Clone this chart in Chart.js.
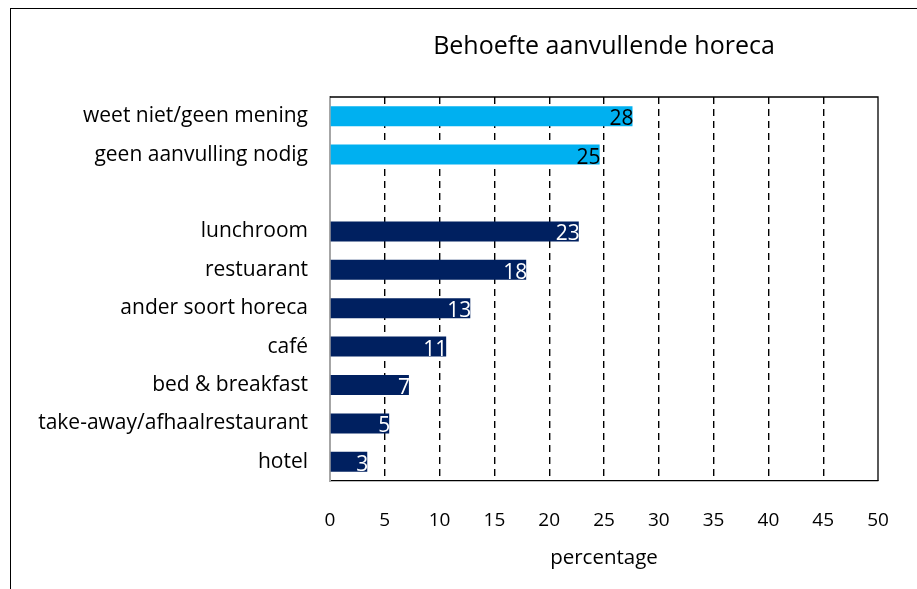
<!DOCTYPE html>
<html>
<head>
<meta charset="utf-8">
<script src="https://cdn.jsdelivr.net/npm/chart.js@4.4.0/dist/chart.umd.min.js"></script>
<style>
    html, body { margin: 0; padding: 0; background: #fff; overflow: hidden; }
</style>
</head>
<body>
<canvas id="grafiekHoreca" width="917" height="589"></canvas>
<script>
const categorieen = [
    'weet niet/geen mening',
    'geen aanvulling nodig',
    '',
    'lunchroom',
    'restuarant',
    'ander soort horeca',
    'café',
    'bed & breakfast',
    'take-away/afhaalrestaurant',
    'hotel'
];
const percentages = [27.6, 24.6, null, 22.7, 17.9, 12.8, 10.6, 7.2, 5.4, 3.4];
const groepen = ['overig', 'overig', null, 'soort', 'soort', 'soort', 'soort', 'soort', 'soort', 'soort'];
const xTicks = [0, 5, 10, 15, 20, 25, 30, 35, 40, 45, 50];

const kleuren = { overig: '#00B0F0', soort: '#002060' };
const lettertype = "'Open Sans', sans-serif";

// kader rond de grafiek + rand boven/rechts van het plotgebied
const kaderPlugin = {
    id: 'kader',
    beforeDraw(chart) {
        const ctx = chart.ctx;
        ctx.save();
        ctx.fillStyle = '#fff';
        ctx.fillRect(0, 0, chart.width, chart.height);
        ctx.strokeStyle = '#000';
        ctx.lineWidth = 1;
        ctx.strokeRect(10.5, 8.5, 1000, 1000);
        ctx.restore();
    },
    afterDraw(chart) {
        const a = chart.chartArea;
        const ctx = chart.ctx;
        ctx.save();
        ctx.strokeStyle = '#000';
        ctx.lineWidth = 1.3;
        ctx.beginPath();
        ctx.moveTo(a.left, a.top);
        ctx.lineTo(a.right, a.top);
        ctx.lineTo(a.right, a.bottom);
        ctx.stroke();
        ctx.restore();
    }
};

// waardes in de balken
const waardePlugin = {
    id: 'waardes',
    afterDatasetsDraw(chart) {
        const ctx = chart.ctx;
        const meta = chart.getDatasetMeta(0);
        ctx.save();
        ctx.font = "21px " + lettertype;
        ctx.textAlign = 'right';
        ctx.textBaseline = 'middle';
        meta.data.forEach((bar, i) => {
            const waarde = percentages[i];
            if (waarde === null) return;
            ctx.fillStyle = groepen[i] === 'overig' ? '#000' : '#fff';
            ctx.fillText(Math.round(waarde), bar.x + 1, bar.y + 3);
        });
        ctx.restore();
    }
};

const grafiek = new Chart(document.getElementById('grafiekHoreca'), {
    type: 'bar',
    data: {
        labels: categorieen,
        datasets: [{
            label: 'percentage',
            data: percentages,
            backgroundColor: groepen.map(g => g ? kleuren[g] : 'transparent'),
            barPercentage: 0.52,
            categoryPercentage: 1
        }]
    },
    options: {
        indexAxis: 'y',
        responsive: false,
        animation: false,
        layout: { padding: { left: 0, right: 39, top: 0, bottom: 0 } },
        plugins: {
            legend: { display: false },
            tooltip: { enabled: false },
            title: {
                display: true,
                text: 'Behoefte aanvullende horeca',
                fullSize: false,
                color: '#000',
                font: { family: lettertype, size: 25, weight: 'normal' },
                padding: { top: 32, bottom: 35 }
            }
        },
        scales: {
            x: {
                min: 0,
                max: 50,
                afterBuildTicks: (scale) => { scale.ticks = xTicks.map(v => ({ value: v })); },
                afterFit: (scale) => { scale.height = 108; },
                ticks: {
                    color: '#000',
                    padding: 28,
                    font: { family: lettertype, size: 19 }
                },
                grid: {
                    drawTicks: false,
                    lineWidth: 1.4,
                    color: (c) => (c.tick && (c.tick.value === 0 || c.tick.value === 50)) ? 'rgba(0,0,0,0)' : '#000'
                },
                border: { color: '#000', width: 1.3, dash: [7, 5] },
                title: {
                    display: true,
                    text: 'percentage',
                    color: '#000',
                    font: { family: lettertype, size: 20.5 },
                    padding: { top: 0, bottom: 19 }
                }
            },
            y: {
                afterFit: (scale) => { scale.width = 330; },
                ticks: {
                    color: '#000',
                    padding: 22,
                    autoSkip: false,
                    font: { family: lettertype, size: 21 }
                },
                grid: { display: false, drawTicks: false },
                border: { color: '#a6a6a6', width: 2 }
            }
        }
    },
    plugins: [kaderPlugin, waardePlugin]
});
</script>
</body>
</html>
